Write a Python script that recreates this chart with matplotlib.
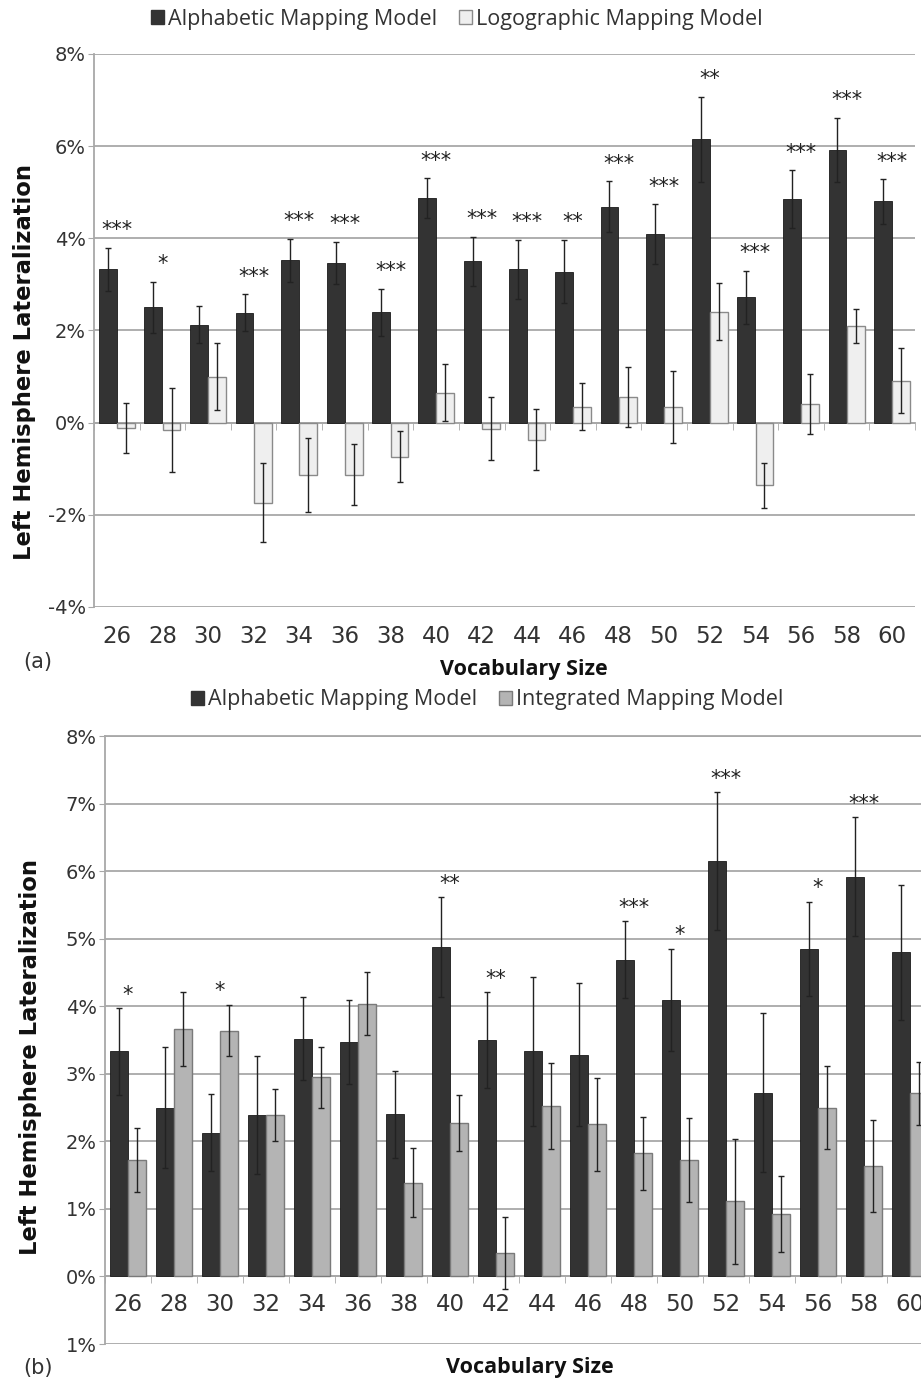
import matplotlib
matplotlib.use("Agg")
from matplotlib import pyplot as plt
from matplotlib.patches import Patch
import numpy as np

# vocabulary sizes on the x axis
vocab = [26, 28, 30, 32, 34, 36, 38, 40, 42, 44, 46, 48, 50, 52, 54, 56, 58, 60]

# alphabetic mapping model (same means in both panels, different error bars)
alpha = [3.33, 2.50, 2.13, 2.39, 3.52, 3.47, 2.40, 4.87, 3.50, 3.33, 3.28, 4.69, 4.09, 6.15, 2.72, 4.85, 5.92, 4.80]
alpha_err_a = [0.47, 0.56, 0.40, 0.40, 0.47, 0.46, 0.51, 0.43, 0.53, 0.64, 0.69, 0.55, 0.65, 0.92, 0.58, 0.63, 0.70, 0.48]
alpha_err_b = [0.64, 0.89, 0.57, 0.87, 0.61, 0.62, 0.64, 0.74, 0.71, 1.10, 1.06, 0.57, 0.76, 1.02, 1.18, 0.70, 0.88, 1.00]

# logographic mapping model (panel a)
logo = [-0.11, -0.15, 1.00, -1.74, -1.13, -1.13, -0.74, 0.65, -0.13, -0.37, 0.35, 0.55, 0.34, 2.41, -1.36, 0.40, 2.09, 0.91]
logo_err = [0.54, 0.91, 0.72, 0.86, 0.80, 0.66, 0.55, 0.62, 0.68, 0.66, 0.50, 0.65, 0.78, 0.62, 0.49, 0.65, 0.37, 0.70]

# integrated mapping model (panel b)
integ = [1.72, 3.66, 3.64, 2.39, 2.95, 4.04, 1.39, 2.27, 0.35, 2.52, 2.25, 1.82, 1.72, 1.11, 0.92, 2.50, 1.63, 2.71]
integ_err = [0.47, 0.55, 0.38, 0.39, 0.45, 0.46, 0.51, 0.42, 0.53, 0.64, 0.69, 0.54, 0.62, 0.92, 0.56, 0.62, 0.68, 0.47]

# significance stars
sig_a = ["***", "*", "", "***", "***", "***", "***", "***", "***", "***", "**", "***", "***", "**", "***", "***", "***", "***"]
sig_b = ["*", "", "*", "", "", "", "", "**", "**", "", "", "***", "*", "***", "", "*", "***", ""]

yticks_a = [-4, -2, 0, 2, 4, 6, 8]
yticks_b = [-1, 0, 1, 2, 3, 4, 5, 6, 7, 8]
ylabels_b = ["1%", "0%", "1%", "2%", "3%", "4%", "5%", "6%", "7%", "8%"]

DARK = "#333333"
LIGHT = "#efefef"
MID = "#b4b4b4"
GRID = "#a8a8a8"

plt.rcParams["font.family"] = "DejaVu Sans"

fig = plt.figure(figsize=(9.21, 13.86), dpi=100)
W, H = 921.0, 1386.0

x = np.arange(len(vocab))
bw = 0.39
off = 0.2
ekw = dict(ecolor="#222222", elinewidth=1.0, capsize=2.5, capthick=1.0)


def style_axes(ax, ticks, labels, lo, hi):
    ax.set_xlim(-0.5, len(vocab) - 0.5)
    ax.set_ylim(lo, hi)
    ax.set_yticks(ticks)
    ax.set_yticklabels(labels, fontsize=14, color="#333333")
    ax.yaxis.grid(True, color=GRID, linewidth=1.3)
    ax.set_axisbelow(True)
    ax.tick_params(axis="y", length=4, color=GRID, pad=2)
    ax.spines["left"].set_color(GRID)
    ax.spines["left"].set_linewidth(1.3)
    ax.spines["right"].set_visible(False)
    ax.spines["bottom"].set_position(("data", 0))
    ax.spines["bottom"].set_color(GRID)
    ax.spines["bottom"].set_linewidth(1.3)
    ax.set_xticks(x)
    ax.set_xticks(np.arange(len(vocab) + 1) - 0.5, minor=True)
    ax.tick_params(axis="x", which="minor", length=5, color=GRID, direction="out")


# ---------------- panel (a) ----------------
ax1 = fig.add_axes([94 / W, 1 - 607 / H, 821 / W, 553 / H])
ax1.bar(x - off, alpha, bw, color=DARK, edgecolor="#1a1a1a", linewidth=0.6,
        yerr=alpha_err_a, error_kw=ekw, zorder=3)
ax1.bar(x + off, logo, bw, color=LIGHT, edgecolor="#8a8a8a", linewidth=1.0,
        yerr=logo_err, error_kw=ekw, zorder=3)
style_axes(ax1, yticks_a, [f"{t}%" for t in yticks_a], -4, 8)
ax1.spines["top"].set_visible(False)
ax1.tick_params(axis="x", which="major", length=0, labelbottom=False)
sec = ax1.secondary_xaxis("bottom")
sec.set_xticks(x, [str(v) for v in vocab])
sec.tick_params(length=0, pad=13, labelsize=16.5, labelcolor="#333333")
sec.spines["bottom"].set_visible(False)
for i, s in enumerate(sig_a):
    if s:
        top = max(alpha[i] + alpha_err_a[i], logo[i] + logo_err[i])
        ax1.text(x[i], top + 0.38, s, ha="center", va="center", fontsize=15, color="#222222")

# ---------------- panel (b) ----------------
ax2 = fig.add_axes([105 / W, 1 - 1344 / H, 828 / W, 608 / H])
ax2.bar(x - off, alpha, bw, color=DARK, edgecolor="#1a1a1a", linewidth=0.6,
        yerr=alpha_err_b, error_kw=ekw, zorder=3)
ax2.bar(x + off, integ, bw, color=MID, edgecolor="#7a7a7a", linewidth=1.0,
        yerr=integ_err, error_kw=ekw, zorder=3)
style_axes(ax2, yticks_b, ylabels_b, -1, 8)
ax2.spines["top"].set_color(GRID)
ax2.spines["top"].set_linewidth(1.3)
ax2.set_xticklabels([str(v) for v in vocab])
ax2.tick_params(axis="x", which="major", length=0, pad=12, labelsize=16.5, labelcolor="#333333")
for i, s in enumerate(sig_b):
    if s:
        top = max(alpha[i] + alpha_err_b[i], integ[i] + integ_err[i])
        ax2.text(x[i], top + 0.2, s, ha="center", va="center", fontsize=15, color="#222222")

# ---------------- legends and labels ----------------
leg_a = [Patch(facecolor=DARK, edgecolor=DARK, label="Alphabetic Mapping Model"),
         Patch(facecolor=LIGHT, edgecolor="#8a8a8a", label="Logographic Mapping Model")]
leg_b = [Patch(facecolor=DARK, edgecolor=DARK, label="Alphabetic Mapping Model"),
         Patch(facecolor=MID, edgecolor="#7a7a7a", label="Integrated Mapping Model")]
lkw = dict(loc="center", ncol=2, frameon=False, handlelength=0.6, handleheight=0.6,
           handletextpad=0.2, columnspacing=1.0, prop={"family": "Open Sans", "size": 15.5},
           labelcolor="#333333")
fig.legend(handles=leg_a, bbox_to_anchor=(457 / W, 1 - 19 / H), **lkw)
fig.legend(handles=leg_b, bbox_to_anchor=(487 / W, 1 - 700 / H), **lkw)

ykw = dict(rotation=90, ha="center", va="center", fontsize=16.3, fontweight="bold", color="#111111")
fig.text(25 / W, 1 - 362 / H, "Left Hemisphere Lateralization", **ykw)
fig.text(31 / W, 1 - 1057 / H, "Left Hemisphere Lateralization", **ykw)

xkw = dict(ha="center", va="center", fontsize=15.5, fontweight="bold", family="Open Sans", color="#111111")
fig.text(524 / W, 1 - 670 / H, "Vocabulary Size", **xkw)
fig.text(530 / W, 1 - 1368 / H, "Vocabulary Size", **xkw)

fig.text(38 / W, 1 - 662 / H, "(a)", ha="center", va="center", fontsize=15, color="#333333")
fig.text(38 / W, 1 - 1368 / H, "(b)", ha="center", va="center", fontsize=15, color="#333333")

fig.savefig("out.png", dpi=100)
